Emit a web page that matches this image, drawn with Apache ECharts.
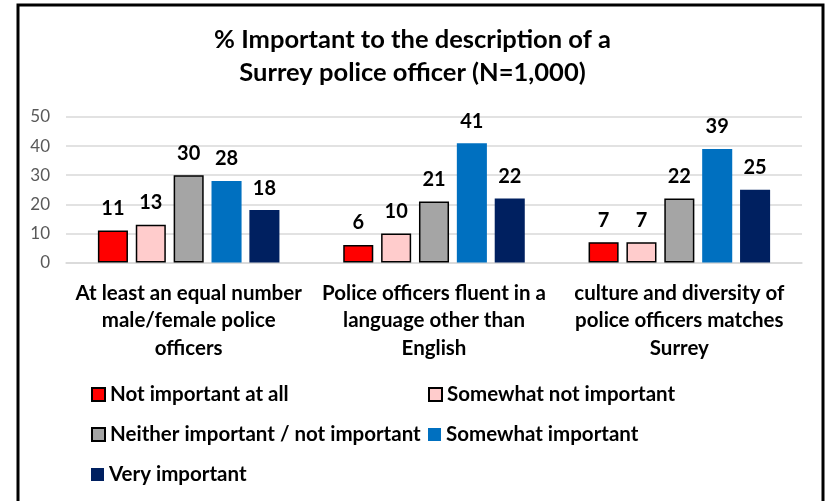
<!DOCTYPE html>
<html><head><meta charset="utf-8">
<script src="https://cdn.jsdelivr.net/npm/echarts@6/dist/echarts.min.js"></script>
<style>html,body{margin:0;padding:0;background:#fff}#c{width:825px;height:501px}</style>
</head><body><div id="c"></div>
<script>
const categories = [
  'At least an equal number\nmale/female police\nofficers',
  'Police officers fluent in a\nlanguage other than\nEnglish',
  'culture and diversity of\npolice officers matches\nSurrey'
];
const seriesNames = ['Not important at all', 'Somewhat not important', 'Neither important / not important', 'Somewhat important', 'Very important'];
const notImportantAtAll = [11, 6, 7];
const somewhatNotImportant = [13, 10, 7];
const neitherImportant = [30, 21, 22];
const somewhatImportant = [28, 41, 39];
const veryImportant = [18, 22, 25];
const yTickLabels = ['0', '10', '20', '30', '40', '50'];

const values = [notImportantAtAll, somewhatNotImportant, neitherImportant, somewhatImportant, veryImportant];
const colors = ['#FF0000', '#FFCCCC', '#A5A5A5', '#0070C0', '#002060'];
const bordered = [true, true, true, false, false];
const FONT = "Lato, 'Liberation Sans', sans-serif";

const legendPos = [
  {left: 86, top: 379}, {left: 423, top: 379},
  {left: 86, top: 419}, {left: 423, top: 419},
  {left: 86, top: 459}
];

const chart = echarts.init(document.getElementById('c'), null, {renderer: 'canvas'});
chart.setOption({
  animation: false,
  backgroundColor: '#fff',
  title: {
    text: '% Important to the description of a\nSurrey police officer (N=1,000)',
    left: 'center', top: 18,
    textStyle: {fontFamily: FONT, fontSize: 25.5, fontWeight: 'bold', color: '#000', lineHeight: 33}
  },
  graphic: [{
    type: 'rect', shape: {x: 18, y: 5, width: 805, height: 540},
    style: {fill: 'none', stroke: '#000', lineWidth: 3}, silent: true
  }],
  legend: seriesNames.map((n, i) => ({
    data: [n], left: legendPos[i].left, top: legendPos[i].top,
    icon: 'rect', itemWidth: 13, itemHeight: 13,
    textStyle: {fontFamily: FONT, fontSize: 20.5, fontWeight: 'bold', color: '#000'},
    selectedMode: false
  })),
  grid: {left: 66, right: 23, top: 117, bottom: 238.5},
  xAxis: {
    type: 'category', data: categories,
    axisLine: {lineStyle: {color: '#D9D9D9', width: 1.5}},
    axisTick: {show: false},
    axisLabel: {fontFamily: FONT, fontSize: 20.5, fontWeight: 'bold', color: '#000', lineHeight: 27.5, margin: 17, interval: 0}
  },
  yAxis: {
    type: 'value', min: 0, max: 50, interval: 10,
    axisLine: {show: false}, axisTick: {show: false},
    splitLine: {lineStyle: {color: '#D9D9D9', width: 1.5}},
    axisLabel: {fontFamily: FONT, fontSize: 17, color: '#595959', margin: 16,
      formatter: v => yTickLabels[Math.round(v / 10)]}
  },
  series: seriesNames.map((n, i) => ({
    name: n, type: 'bar', data: values[i],
    barGap: '26%', barCategoryGap: '26%',
    itemStyle: {color: colors[i], borderColor: bordered[i] ? '#000' : colors[i], borderWidth: bordered[i] ? 1.5 : 0},
    label: {show: true, position: 'top', distance: 12, fontFamily: FONT, fontSize: 20, fontWeight: 'bold', color: '#000'}
  }))
});
</script></body></html>
